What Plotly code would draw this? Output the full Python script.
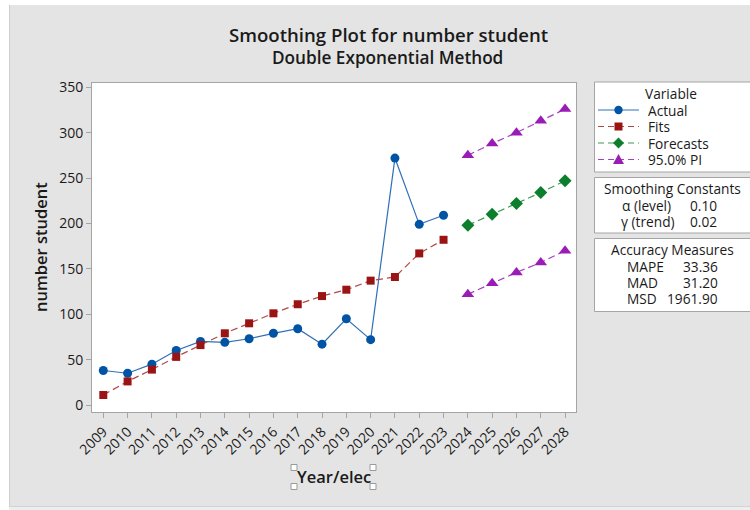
import plotly.graph_objects as go

# ---- data ----
years_hist = list(range(2009, 2024))
actual = [38, 35, 45, 60, 70, 69, 73, 79, 84, 67, 95, 72, 272, 199, 209]
fits = [11, 26, 39, 53, 66, 79, 90, 101, 111, 120, 127, 137, 141, 167, 182]
years_fc = list(range(2024, 2029))
forecasts = [198, 210, 222, 234, 247]
upper_pi = [275, 288, 300, 313, 326]
lower_pi = [122, 134, 146, 157, 170]
year_ticks = list(range(2009, 2029))
y_ticks = [0, 50, 100, 150, 200, 250, 300, 350]

smoothing_rows = [("\u03b1 (level)", "0.10"), ("\u03b3 (trend)", "0.02")]
accuracy_rows = [("MAPE", "33.36"), ("MAD", "31.20"), ("MSD", "1961.90")]

# ---- styling ----
W, H = 750, 510
L, R, T, B = 92, 576, 83, 412          # plot area in pixels
FONT = "Open Sans"
TXT = "#1a1a1a"
BLUE, RED, GREEN, PURPLE = "#0054a6", "#9b1414", "#0b7f2b", "#9a1cb6"
LBLUE, LRED, LGREEN, LPURPLE = "#2f6fb8", "#b24848", "#3f9a55", "#a640c2"
FRAME = "#a5a5a5"
DASH = "7px,4px"

series_style = [
    # name, marker symbol, marker colour, line colour, dash
    ("Actual", "circle", BLUE, LBLUE, "solid"),
    ("Fits", "square", RED, LRED, DASH),
    ("Forecasts", "diamond", GREEN, LGREEN, DASH),
    ("95.0% PI", "triangle-up", PURPLE, LPURPLE, DASH),
]
marker_size = {"circle": 9, "square": 8, "diamond": 10, "triangle-up": 11}


def px(x):
    return (x - L) / (R - L)


def py(y):
    return (B - y) / (B - T)


fig = go.Figure()


def add_series(x, y, idx):
    name, sym, mc, lc, dash = series_style[idx]
    fig.add_trace(go.Scatter(
        x=x, y=y, name=name, mode="lines+markers", showlegend=False,
        line=dict(color=lc, width=1.2, dash=dash),
        marker=dict(symbol=sym, size=marker_size[sym], color=mc)))


add_series(years_hist, actual, 0)
add_series(years_hist, fits, 1)
add_series(years_fc, forecasts, 2)
add_series(years_fc, upper_pi, 3)
add_series(years_fc, lower_pi, 3)

shapes = []
# outer page strips
shapes.append(dict(type="rect", xref="paper", yref="paper", layer="below",
                   x0=px(0), x1=px(W), y0=py(0), y1=py(5),
                   fillcolor="white", line=dict(width=0)))
shapes.append(dict(type="rect", xref="paper", yref="paper", layer="below",
                   x0=px(0), x1=px(9), y0=py(0), y1=py(H),
                   fillcolor="white", line=dict(width=0)))
shapes.append(dict(type="line", xref="paper", yref="paper", layer="below",
                   x0=px(9.5), x1=px(9.5), y0=py(5), y1=py(506),
                   line=dict(color="#cfcfcf", width=1)))
shapes.append(dict(type="rect", xref="paper", yref="paper", layer="below",
                   x0=px(9), x1=px(W), y0=py(506), y1=py(H),
                   fillcolor="#eceef1", line=dict(width=0)))
shapes.append(dict(type="line", xref="paper", yref="paper", layer="below",
                   x0=px(9), x1=px(W), y0=py(506.5), y1=py(506.5),
                   line=dict(color="#d3d3d3", width=1)))

# side panels
for y0, y1 in [(82, 172), (177.5, 233), (238.5, 311.5)]:
    shapes.append(dict(type="rect", xref="paper", yref="paper", layer="below",
                       x0=px(594.5), x1=px(760), y0=py(y1), y1=py(y0),
                       fillcolor="white", line=dict(color=FRAME, width=1)))


# legend keys drawn as shapes
def key_marker(sym, cx, cy, color):
    if sym == "circle":
        r = 4.2
        return dict(type="circle", xref="paper", yref="paper",
                    x0=px(cx - r), x1=px(cx + r), y0=py(cy + r), y1=py(cy - r),
                    fillcolor=color, line=dict(width=0))
    if sym == "square":
        r = 4
        return dict(type="rect", xref="paper", yref="paper",
                    x0=px(cx - r), x1=px(cx + r), y0=py(cy + r), y1=py(cy - r),
                    fillcolor=color, line=dict(width=0))
    if sym == "diamond":
        r = 5.5
        pts = [(cx, cy - r), (cx + r, cy), (cx, cy + r), (cx - r, cy)]
    else:
        r = 5.5
        pts = [(cx, cy - r), (cx + r, cy + r * 0.8), (cx - r, cy + r * 0.8)]
    path = "M " + " L ".join(f"{px(a):.5f},{py(b):.5f}" for a, b in pts) + " Z"
    return dict(type="path", xref="paper", yref="paper", path=path,
                fillcolor=color, line=dict(width=0))


legend_rows_y = [110, 126.5, 143, 159.5]
for (name, sym, mc, lc, dash), ly in zip(series_style, legend_rows_y):
    shapes.append(dict(type="line", xref="paper", yref="paper",
                       x0=px(598), x1=px(639), y0=py(ly), y1=py(ly),
                       line=dict(color=lc, width=1.2,
                                 dash="solid" if dash == "solid" else "6px,4px")))
    shapes.append(key_marker(sym, 618.5, ly, mc))

# selection handles around the x-axis title
for hx in (294, 373):
    for hy in (467.5, 486.5):
        shapes.append(dict(type="rect", xref="paper", yref="paper",
                           x0=px(hx - 3), x1=px(hx + 3),
                           y0=py(hy + 3), y1=py(hy - 3),
                           fillcolor="white", line=dict(color="#9a9a9a", width=1)))

ann = []


def text(x, y, s, size=13.7, xanchor="center", weight=400, angle=0, color=TXT):
    ann.append(dict(xref="paper", yref="paper", x=px(x), y=py(y), text=s,
                    showarrow=False, xanchor=xanchor, yanchor="middle",
                    textangle=angle,
                    font=dict(family=FONT, size=size, color=color, weight=weight)))


text(388.5, 35, "Smoothing Plot for number student", size=18.6, weight=600)
text(387, 57, "Double Exponential Method", size=17.2, weight=600)
text(40, 247, "number student", size=16.5, weight=600, angle=-90)
text(334, 476, "Year/elec", size=16.5, weight=600)

text(671, 93.5, "Variable")
for (name, *_), ly in zip(series_style, legend_rows_y):
    text(646, ly, name, xanchor="left")
text(672, 188, "Smoothing Constants")
for (lab, val), yy, cx in zip(smoothing_rows, (205, 221), (646, 647.5)):
    text(cx, yy, lab)
    text(719, yy, val, xanchor="right")
text(672.5, 249, "Accuracy Measures")
for (lab, val), yy in zip(accuracy_rows, (266.5, 282.5, 298.5)):
    text(625, yy, lab, xanchor="left")
    text(719.5, yy, val, xanchor="right")

fig.update_layout(
    width=W, height=H,
    margin=dict(l=L, r=W - R, t=T, b=H - B, pad=0),
    paper_bgcolor="#e4e4e4",
    plot_bgcolor="white",
    font=dict(family=FONT, size=14, color=TXT),
    showlegend=False,
    shapes=shapes,
    annotations=ann,
    xaxis=dict(range=[2008.535, 2028.45], tickmode="array",
               tickvals=year_ticks, ticktext=[str(y) for y in year_ticks],
               tickangle=-45, ticks="outside", ticklen=5, tickcolor=FRAME,
               showline=True, linecolor=FRAME, linewidth=1, mirror=True,
               showgrid=False, zeroline=False,
               tickfont=dict(family=FONT, size=14, color=TXT)),
    yaxis=dict(range=[-7.7, 354.7], tickmode="array", tickvals=y_ticks,
               ticks="outside", ticklen=5, tickcolor=FRAME,
               showline=True, linecolor=FRAME, linewidth=1, mirror=True,
               showgrid=False, zeroline=False,
               tickfont=dict(family=FONT, size=14, color=TXT)),
)

fig.write_html("out.html")
